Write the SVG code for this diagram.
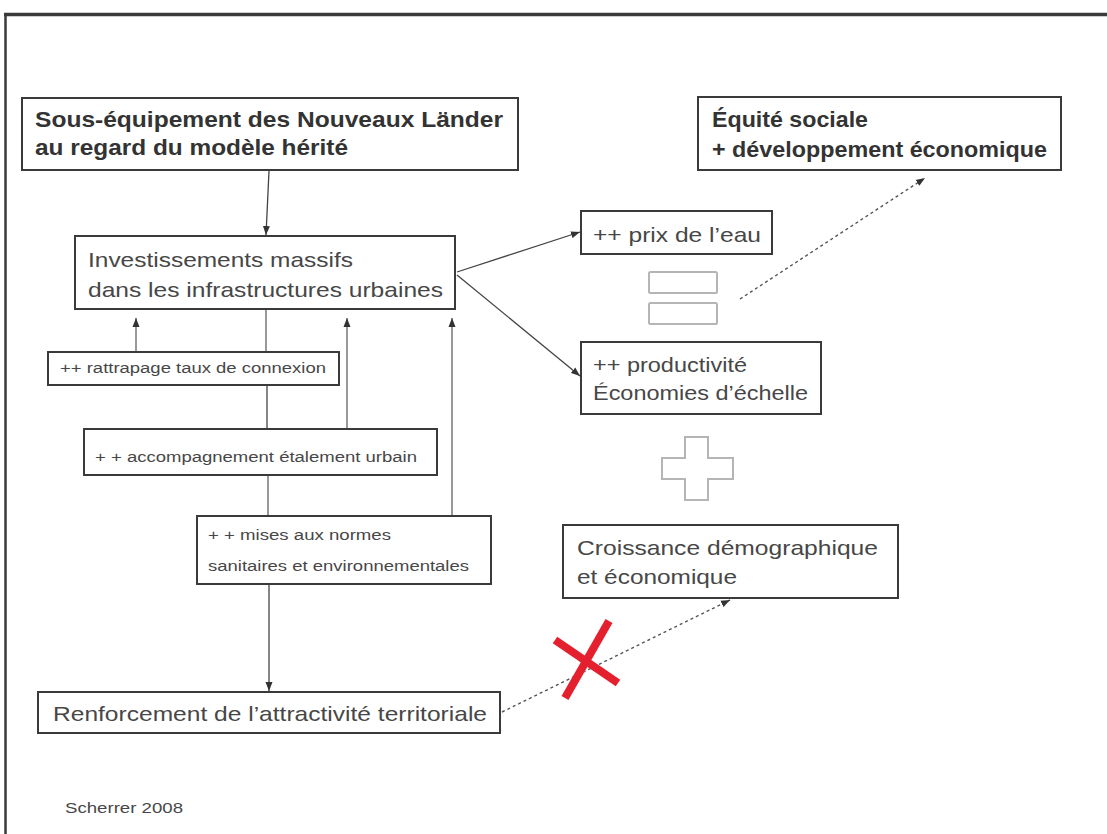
<svg xmlns="http://www.w3.org/2000/svg" width="1107" height="834" viewBox="0 0 1107 834">
<style>
.box{fill:#fff;stroke:#3a3a3a;stroke-width:2}
.t{font-family:"Liberation Sans",Arial,sans-serif;fill:#474747}
.b{font-family:"Liberation Sans",Arial,sans-serif;fill:#333;font-weight:bold}
.c{fill:none;stroke:#444;stroke-width:1.3}
.g{fill:none;stroke:#999;stroke-width:2}
.d{fill:none;stroke:#555;stroke-width:1.4;stroke-dasharray:3 3}
.sym{fill:#fff;stroke:#b5b5b5;stroke-width:2}
</style>
<defs>
<marker id="ah" markerUnits="userSpaceOnUse" markerWidth="10" markerHeight="8" refX="9" refY="4" orient="auto">
<path d="M0,0.5 L9,4 L0,7.5 z" fill="#333"/>
</marker>
</defs>
<rect width="1107" height="834" fill="#fff"/>
<g id="frame">
<line x1="4" y1="14.5" x2="1107" y2="14.5" stroke="#3a3a3a" stroke-width="3.5"/>
<line x1="5.5" y1="13" x2="5.5" y2="834" stroke="#3a3a3a" stroke-width="2.5"/>
</g>
<g id="connectors">
<line class="c" x1="269" y1="171" x2="266" y2="235" marker-end="url(#ah)"/>
<line class="c" x1="457" y1="272" x2="580" y2="232" marker-end="url(#ah)"/>
<line class="c" x1="457" y1="275" x2="580" y2="376" marker-end="url(#ah)"/>
<line class="g" x1="136" y1="351" x2="136" y2="318" marker-end="url(#ah)"/>
<line class="g" x1="347" y1="428" x2="347" y2="318" marker-end="url(#ah)"/>
<line class="g" x1="452" y1="515" x2="452" y2="318" marker-end="url(#ah)"/>
<line class="g" x1="266" y1="310" x2="266" y2="352"/>
<line class="c" x1="267" y1="386" x2="267" y2="429"/>
<line class="g" x1="268" y1="476" x2="268" y2="516"/>
<line class="c" x1="269" y1="585" x2="269" y2="691" marker-end="url(#ah)"/>
<line class="d" x1="740" y1="299" x2="925" y2="178" marker-end="url(#ah)"/>
<line class="d" x1="502" y1="712" x2="730" y2="600" marker-end="url(#ah)"/>
</g>
<g id="n-sous">
<rect class="box" x="22" y="98" width="496" height="72"/>
<text class="b" x="35" y="127" font-size="22" textLength="468" lengthAdjust="spacingAndGlyphs">Sous-équipement des Nouveaux Länder</text>
<text class="b" x="35" y="155" font-size="22" textLength="313" lengthAdjust="spacingAndGlyphs">au regard du modèle hérité</text>
</g>
<g id="n-invest">
<rect class="box" x="75" y="236" width="380" height="73"/>
<text class="t" x="88" y="267" font-size="21" textLength="265" lengthAdjust="spacingAndGlyphs">Investissements massifs</text>
<text class="t" x="88" y="297" font-size="21" textLength="355" lengthAdjust="spacingAndGlyphs">dans les infrastructures urbaines</text>
</g>
<g id="n-rattrapage">
<rect class="box" x="48" y="352" width="291" height="33"/>
<text class="t" x="60" y="373" font-size="14" textLength="266" lengthAdjust="spacingAndGlyphs">++ rattrapage taux de connexion</text>
</g>
<g id="n-accomp">
<rect class="box" x="84" y="429" width="353" height="46"/>
<text class="t" x="95" y="462" font-size="14" textLength="322" lengthAdjust="spacingAndGlyphs">+ + accompagnement étalement urbain</text>
</g>
<g id="n-mises">
<rect class="box" x="197" y="516" width="294" height="68"/>
<text class="t" x="208" y="540" font-size="14" textLength="183" lengthAdjust="spacingAndGlyphs">+ + mises aux normes</text>
<text class="t" x="208" y="571" font-size="14" textLength="261" lengthAdjust="spacingAndGlyphs">sanitaires et environnementales</text>
</g>
<g id="n-renforcement">
<rect class="box" x="38" y="692" width="462" height="41"/>
<text class="t" x="53" y="721" font-size="21" textLength="434" lengthAdjust="spacingAndGlyphs">Renforcement de l’attractivité territoriale</text>
</g>
<g id="n-equite">
<rect class="box" x="698" y="97" width="363" height="73"/>
<text class="b" x="712" y="127" font-size="22" textLength="156" lengthAdjust="spacingAndGlyphs">Équité sociale</text>
<text class="b" x="712" y="157" font-size="22" textLength="335" lengthAdjust="spacingAndGlyphs">+ développement économique</text>
</g>
<g id="n-prix">
<rect class="box" x="581" y="211" width="191" height="43"/>
<text class="t" x="593" y="242" font-size="21" textLength="168" lengthAdjust="spacingAndGlyphs">++  prix de l’eau</text>
</g>
<g id="n-equals">
<rect class="sym" x="649" y="272" width="68" height="21" rx="1.5"/>
<rect class="sym" x="649" y="303" width="68" height="21" rx="1.5"/>
</g>
<g id="n-productivite">
<rect class="box" x="581" y="342" width="240" height="72"/>
<text class="t" x="593" y="372" font-size="21" textLength="154" lengthAdjust="spacingAndGlyphs">++ productivité</text>
<text class="t" x="593" y="400" font-size="21" textLength="215" lengthAdjust="spacingAndGlyphs">Économies d’échelle</text>
</g>
<g id="n-plus">
<path class="sym" d="M685,437 H708 V458 H733 V479 H708 V500 H685 V479 H662 V458 H685 Z"/>
</g>
<g id="n-croissance">
<rect class="box" x="563" y="525" width="335" height="73"/>
<text class="t" x="577" y="555" font-size="21" textLength="301" lengthAdjust="spacingAndGlyphs">Croissance démographique</text>
<text class="t" x="577" y="584" font-size="21" textLength="160" lengthAdjust="spacingAndGlyphs">et économique</text>
</g>
<g id="n-cross">
<line x1="555" y1="640" x2="618" y2="683" stroke="#e5202e" stroke-width="8"/>
<line x1="609" y1="621" x2="565" y2="698" stroke="#e5202e" stroke-width="8"/>
</g>
<g id="n-source">
<text class="t" x="65" y="813" font-size="14" textLength="118" lengthAdjust="spacingAndGlyphs">Scherrer 2008</text>
</g>
</svg>
